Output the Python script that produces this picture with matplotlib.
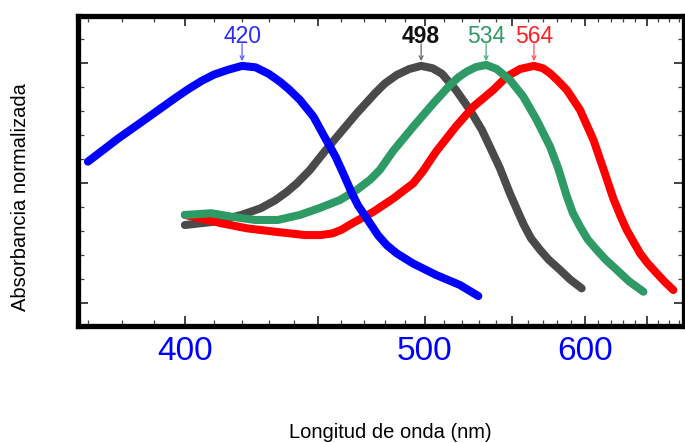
import matplotlib
matplotlib.use("Agg")
import matplotlib.pyplot as plt
from matplotlib.ticker import FixedLocator, NullFormatter
import numpy as np

plt.rcParams['font.family'] = ['Liberation Sans', 'DejaVu Sans']

# Absorbance spectra of the photopigments (wavelength nm, normalized absorbance)
blue_wl = [370.1, 379, 387, 396.7, 401, 405.6, 410, 415, 420, 425, 430, 434.4, 438, 442.4,
           448, 452.6, 457.4, 461, 464.5, 467.5, 470.9, 476.7, 481, 485.7, 493.8, 505.8,
           518.9, 529.4]
blue_abs = [0.589, 0.686, 0.763, 0.853, 0.89, 0.925, 0.952, 0.972, 0.988, 0.982, 0.955, 0.922,
            0.89, 0.846, 0.776, 0.693, 0.610, 0.535, 0.46, 0.405, 0.360, 0.282, 0.24, 0.207,
            0.165, 0.117, 0.075, 0.029]

gray_wl = [400, 410.3, 419.8, 427, 432.4, 437, 441.2, 446.5, 452.6, 459.3, 466.8, 475.4, 480,
           485.7, 492, 498, 504, 509, 516.6, 524.6, 531.5, 536.3, 542.4, 548.6, 557, 562, 568,
           574, 581.8, 589, 597.5]
gray_abs = [0.325, 0.339, 0.367, 0.395, 0.427, 0.462, 0.499, 0.554, 0.630, 0.707, 0.790, 0.875,
            0.915, 0.950, 0.975, 0.988, 0.978, 0.955, 0.888, 0.804, 0.721, 0.650, 0.560, 0.455,
            0.33, 0.27, 0.222, 0.18, 0.138, 0.098, 0.061]

green_wl = [400, 409, 416, 424.8, 433.6, 442.4, 450.4, 459.3, 466.8, 472.9, 477.5, 484.1, 494,
            504.4, 513.4, 518, 522.7, 528, 534, 540.3, 548.6, 557, 565.8, 574.9, 580.6, 586.6,
            591, 596.3, 602, 608.9, 616, 624.8, 635, 647.2]
green_abs = [0.367, 0.374, 0.360, 0.346, 0.346, 0.367, 0.395, 0.429, 0.471, 0.513, 0.554, 0.635,
             0.735, 0.832, 0.908, 0.94, 0.964, 0.983, 0.992, 0.975, 0.929, 0.860, 0.763, 0.651,
             0.560, 0.445, 0.375, 0.318, 0.265, 0.221, 0.18, 0.138, 0.09, 0.047]

red_wl = [400, 412.6, 421.9, 432.4, 444.6, 451, 456, 460, 464.8, 474.5, 484.1, 494, 499, 505.8,
          516.6, 526.5, 538.3, 546.5, 555, 564, 570, 574.9, 580, 586.6, 596.3, 606.4, 614, 622,
          628, 633, 644.3, 651, 659, 666, 674.4]
red_abs = [0.367, 0.332, 0.311, 0.297, 0.283, 0.283, 0.290, 0.305, 0.332, 0.380, 0.436, 0.499,
           0.550, 0.630, 0.735, 0.818, 0.888, 0.943, 0.975, 0.988, 0.978, 0.957, 0.928, 0.888,
           0.804, 0.679, 0.560, 0.435, 0.36, 0.304, 0.207, 0.165, 0.124, 0.09, 0.054]

peak_wl = [420, 498, 534, 564]
peak_labels = ['420', '498', '534', '564']
peak_colors = ['#2b2bff', '#111111', '#2e9a66', '#ff2020']
peak_weights = ['normal', 'bold', 'normal', 'normal']
arrow_colors = ['#5a5aff', '#666666', '#4aa97c', '#ff5050']

xtick_major = [400, 450, 500, 550, 600, 650]
xtick_labels = ['400', '', '500', '', '600', '']
xtick_minor = list(range(370, 690, 10))

fig = plt.figure(figsize=(6.85, 4.43), dpi=100)
ax = fig.add_axes([0.1139, 0.2641, 0.8847, 0.6998])

# x axis is linear in wavenumber (1/wavelength)
ax.set_xscale('function', functions=(lambda x: -1.0 / x, lambda y: -1.0 / y))

lw = 5.8
style = dict(lw=lw, solid_capstyle='round', solid_joinstyle='round')
ax.plot(blue_wl, blue_abs, color='#0000ff', zorder=3, **style)
ax.plot(gray_wl, gray_abs, color='#4a4a4a', zorder=2, **style)
ax.plot(red_wl, red_abs, color='#ff0000', zorder=2, **style)
ax.plot(green_wl, green_abs, color='#2e9a66', zorder=2, **style)

for wl, lab, c, ac, fw in zip(peak_wl, peak_labels, peak_colors, arrow_colors, peak_weights):
    ax.annotate('', xy=(wl, 1.008), xytext=(wl, 1.08),
                arrowprops=dict(arrowstyle='->', color=ac, lw=0.9, shrinkA=0, shrinkB=0,
                                mutation_scale=7))
    ax.text(wl, 1.11, lab, color=c, fontsize=16.5, ha='center', va='center',
            fontweight='normal' if fw == 'normal' else 'semibold')

ax.set_xlim(367.3, 684.7)
ax.set_ylim(-0.0958, 1.1958)

ax.xaxis.set_major_locator(FixedLocator(xtick_major))
ax.xaxis.set_minor_locator(FixedLocator(xtick_minor))
ax.set_xticklabels(xtick_labels)
ax.xaxis.set_minor_formatter(NullFormatter())
ax.yaxis.set_major_locator(FixedLocator([0.0, 0.5, 1.0]))
ax.yaxis.set_minor_locator(FixedLocator(np.arange(-0.1, 1.2, 0.1)))
ax.yaxis.set_major_formatter(NullFormatter())

ax.tick_params(axis='both', which='major', direction='in', length=7, width=1.2,
               top=True, right=True, color='#222222')
ax.tick_params(axis='both', which='minor', direction='in', length=4, width=0.9,
               top=True, right=True, color='#444444')
ax.tick_params(axis='x', which='major', labelsize=24, labelcolor='#0000ff', pad=7)

for sp in ax.spines.values():
    sp.set_linewidth(3.8)
    sp.set_color('black')

ax.set_xlabel('Longitud de onda (nm)', fontsize=14.5)
ax.xaxis.label.set_va('center')
ax.xaxis.set_label_coords(0.515, -0.342)
ax.set_ylabel('Absorbancia normalizada', fontsize=14.5)
ax.yaxis.label.set_va('center')
ax.yaxis.set_label_coords(-0.0957, 0.416)

fig.savefig('out.png', dpi=100)
